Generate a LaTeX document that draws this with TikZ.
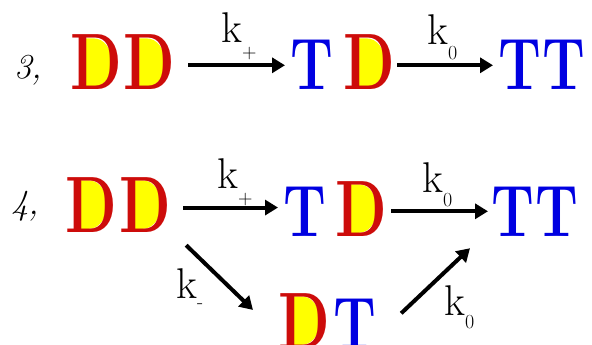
\documentclass[tikz,border=0pt]{standalone}
\usepackage{graphicx}
\usetikzlibrary{arrows.meta,calc,backgrounds}
\definecolor{dred}{RGB}{205,12,10}
\definecolor{dyellow}{RGB}{255,255,0}
\definecolor{dblue}{RGB}{0,0,225}
\newcommand\sqz[1]{\scalebox{0.75}[1]{#1}}
\newcommand\ksub[2]{k\raisebox{-#1pt}{\fontsize{20}{20}\selectfont #2}}
\newcommand\ycounter[1]{\fill[dyellow] ($(#1.base west)+(9pt,3.2pt)$) -- ++(0pt,48.4pt) -- ++(15pt,0pt) arc[start angle=90,end angle=-90,x radius=18pt,y radius=24.2pt] -- cycle;}
\tikzset{
  dl/.style={anchor=base west, inner sep=0pt, text=dred, font=\bfseries\fontsize{80}{80}\selectfont},
  tl/.style={anchor=base west, inner sep=0pt, text=dblue, font=\bfseries\fontsize{73}{73}\selectfont},
  kl/.style={anchor=base west, inner sep=0pt, font=\fontsize{43}{43}\selectfont},
  num/.style={anchor=base west, inner sep=0pt, font=\itshape\fontsize{35}{35}\selectfont},
  arr/.style={line width=4pt, -{Triangle[length=13pt,width=15pt]}}
}
\begin{document}
\begin{tikzpicture}[x=1pt,y=-1pt]
\useasboundingbox (0,0) rectangle (592,345);
% row 3
\node[num] (n3) at (14,78) {3,};
\node[dl] (D3a) at (70,90) {\sqz{D}};
\node[dl] (D3b) at (123,90) {\sqz{D}};
\node[kl] (k3a) at (221,43) {\ksub{16}{+}};
\node[tl] (T3a) at (290,90) {\sqz{T}};
\node[dl] (D3c) at (343,90) {\sqz{D}};
\node[kl] (k3b) at (427,45) {\ksub{15}{0}};
\node[tl] (T3b) at (498,90) {\sqz{T}};
\node[tl] (T3c) at (542,90) {\sqz{T}};
% row 4
\node[num] (n4) at (11,214) {4,};
\node[dl] (D4a) at (65,232) {\sqz{D}};
\node[dl] (D4b) at (119,232) {\sqz{D}};
\node[kl] (k4a) at (217,188) {\ksub{16}{+}};
\node[tl] (T4a) at (283,236) {\sqz{T}};
\node[dl] (D4c) at (335,236) {\sqz{D}};
\node[kl] (k4b) at (422,192) {\ksub{14}{0}};
\node[tl] (T4b) at (491,236) {\sqz{T}};
\node[tl] (T4c) at (535,236) {\sqz{T}};
\node[dl] (D5) at (278,348) {\sqz{D}};
\node[tl] (T5) at (333,348) {\sqz{T}};
\node[kl] (k4c) at (176,298) {\ksub{10}{-}};
\node[kl] (k4d) at (444,315) {\ksub{13}{0}};
% arrows
\draw[arr, shorten <=13pt, shorten >=5pt] (D3b.east |- T3a.west) -- (T3a.west);
\draw[arr, shorten <=2pt, shorten >=5pt] (D3c.east |- T3b.west) -- (T3b.west);
\draw[arr, shorten <=12pt, shorten >=5pt] ($(D4b.east)+(0pt,-3pt)$) -- ($(D4b.east -| T4a.west)+(0pt,-3pt)$);
\draw[arr, shorten <=4pt, shorten >=3pt] (T4b.west -| D4c.east) -- (T4b.west);
\coordinate (s1) at ($(D4b.south east)+(15pt,-13pt)$);
\coordinate (e1) at ($(D5.north west)+(-25pt,-17pt)$);
\coordinate (s2) at ($(T5.east)+(25pt,10pt)$);
\coordinate (e2) at ($(T4b.south west)+(-21pt,-12pt)$);
\draw[arr] (s1) -- (e1);
\draw[arr] (s2) -- (e2);
\begin{scope}[on background layer]
\fill[white] (0,0) rectangle (592,345);
\foreach \d in {D3a,D3b,D3c,D4a,D4b,D4c,D5} {\ycounter{\d}}
\end{scope}
\end{tikzpicture}
\end{document}
